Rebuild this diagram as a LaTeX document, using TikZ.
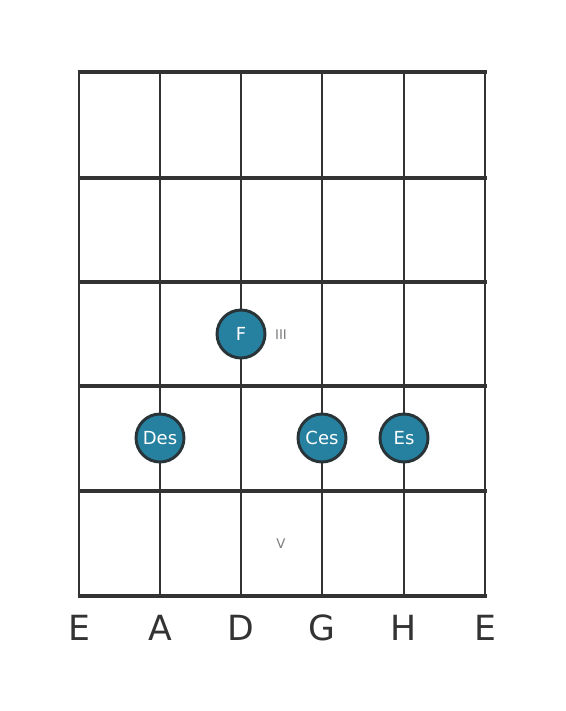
\documentclass[tikz,border=0pt]{standalone}
\usepackage{fontspec}
\setmainfont{DejaVu Sans}
\definecolor{gridc}{RGB}{51,51,51}
\definecolor{notefill}{RGB}{38,128,160}
\definecolor{noteline}{RGB}{40,52,56}
\definecolor{romc}{RGB}{125,125,125}
\begin{document}
\begin{tikzpicture}[x=0.75pt,y=-0.75pt,
  fret/.style={draw=gridc,line width=3pt},
  topfret/.style={draw=gridc,line width=3.6pt},
  stringline/.style={draw=gridc,line width=2.2pt},
  note/.style={circle,draw=noteline,line width=2.2pt,fill=notefill,minimum size=48*0.75pt,inner sep=0pt,text=white,font=\fontsize{13.5pt}{15pt}\selectfont},
  slabel/.style={text=gridc,font=\fontsize{26pt}{28pt}\selectfont,anchor=base},
  roman/.style={text=romc,font=\fontsize{10pt}{11pt}\selectfont}]
\useasboundingbox (0,0) rectangle (566,711);
% strings
\foreach \x/\n in {79/s1,160/s2,241/s3,322/s4,404/s5,485/s6}{
  \coordinate (\n t) at (\x,72);
  \coordinate (\n b) at (\x,597.5);
  \draw[stringline] (\n t) -- (\n b);
}
% frets
\foreach \y/\n in {178/f1,282/f2,386/f3,491/f4,596/f5}{
  \coordinate (\n l) at (77.5,\y);
  \coordinate (\n r) at (486.5,\y);
  \draw[fret] (\n l) -- (\n r);
}
\coordinate (f0l) at (77.5,72);
\coordinate (f0r) at (486.5,72);
\draw[topfret] (f0l) -- (f0r);
% string labels
\node[slabel] (lE1) at (79,640) {E};
\node[slabel] (lA) at (160,640) {A};
\node[slabel] (lD) at (241,640) {D};
\node[slabel] (lG) at (322,640) {G};
\node[slabel] (lH) at (404,640) {H};
\node[slabel] (lE2) at (485,640) {E};
% position marks
\node[roman] (rIII) at (281,335) {III};
\node[roman] (rV) at (281,544) {V};
% notes
\node[note] (nF) at (241,334) {F};
\node[note] (nDes) at (160,438) {Des};
\node[note] (nCes) at (322,438) {Ces};
\node[note] (nEs) at (404,438) {Es};
\end{tikzpicture}
\end{document}
